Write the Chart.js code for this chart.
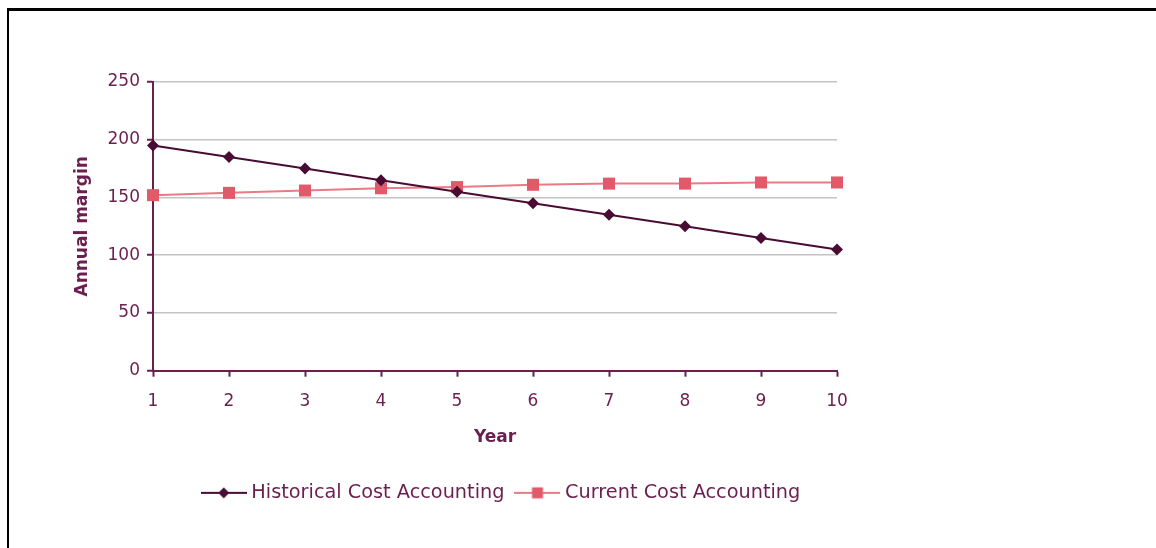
<!DOCTYPE html>
<html>
<head>
<meta charset="utf-8">
<title>Annual margin</title>
<script src="https://cdn.jsdelivr.net/npm/chart.js@4.4.1/dist/chart.umd.min.js"></script>
<style>
    body { margin: 0; background: #fff; }
    #frame {
        position: absolute; left: 7px; top: 8px; width: 1149px; height: 540px;
        border-top: 3px solid #000; border-left: 2px solid #000; box-sizing: border-box;
    }
    #wrap { position: absolute; left: 0; top: 0; width: 1156px; height: 548px; }
</style>
</head>
<body>
<div id="frame"></div>
<div id="wrap"><canvas id="marginChart"></canvas></div>
<script>
// Data
const years = ['1', '2', '3', '4', '5', '6', '7', '8', '9', '10'];
const historicalCost = [195, 185, 175, 165, 155, 145, 135, 125, 115, 105];
const currentCost = [152, 154, 156, 158, 159, 161, 162, 162, 163, 163];
const yTicks = [0, 50, 100, 150, 200, 250];

const textColor = '#6a1f4f';
const axisColor = '#6a1f4f';
const gridColor = '#c4c4c4';
const histColor = '#4a0b33';
const currColor = '#e2596a';
const currLine = '#ea7a86';

Chart.defaults.font.family = "'DejaVu Sans', sans-serif";

// Legend icons: short line with the marker in the middle
function makeIcon(lineColor, markerColor, shape) {
    const c = document.createElement('canvas');
    c.width = 46;
    c.height = 14;
    const g = c.getContext('2d');
    g.strokeStyle = lineColor;
    g.lineWidth = 2;
    g.beginPath();
    g.moveTo(0, 7);
    g.lineTo(46, 7);
    g.stroke();
    g.fillStyle = markerColor;
    g.beginPath();
    if (shape === 'diamond') {
        g.moveTo(23, 1.5);
        g.lineTo(28.5, 7);
        g.lineTo(23, 12.5);
        g.lineTo(17.5, 7);
        g.closePath();
    } else {
        g.rect(17.5, 1.5, 11, 11);
    }
    g.fill();
    return c;
}
const legendIcons = [
    makeIcon(histColor, histColor, 'diamond'),
    makeIcon(currLine, currColor, 'square')
];

// nudge the legend a little to the right, like the original
const shiftLegend = {
    id: 'shiftLegend',
    afterLayout(chart) {
        if (chart.legend) {
            chart.legend.left += 8;
            chart.legend.right += 8;
        }
    }
};

new Chart(document.getElementById('marginChart'), {
    type: 'line',
    data: {
        labels: years,
        datasets: [{
            label: 'Historical Cost Accounting',
            data: historicalCost,
            borderColor: histColor,
            borderWidth: 2,
            pointStyle: 'rectRot',
            pointRadius: 6,
            pointBackgroundColor: histColor,
            pointBorderColor: histColor,
            pointBorderWidth: 0,
            tension: 0,
            clip: false
        }, {
            label: 'Current Cost Accounting',
            data: currentCost,
            borderColor: currLine,
            borderWidth: 2,
            pointStyle: 'rect',
            pointRadius: 8.5,
            pointBackgroundColor: currColor,
            pointBorderColor: currColor,
            pointBorderWidth: 0,
            tension: 0,
            clip: false
        }]
    },
    options: {
        responsive: true,
        maintainAspectRatio: false,
        animation: false,
        layout: {
            padding: { left: 68, top: 82, right: 319, bottom: 35.5 }
        },
        plugins: {
            tooltip: { enabled: false },
            legend: {
                position: 'bottom',
                fullSize: false,
                labels: {
                    usePointStyle: true,
                    pointStyleWidth: 36,
                    padding: 15,
                    color: textColor,
                    font: { size: 19.3 },
                    generateLabels: function (chart) {
                        const items = Chart.defaults.plugins.legend.labels.generateLabels(chart);
                        items.forEach((it, i) => { it.pointStyle = legendIcons[i]; });
                        return items;
                    }
                }
            }
        },
        scales: {
            x: {
                type: 'category',
                offset: false,
                grid: {
                    drawOnChartArea: false,
                    drawTicks: true,
                    tickLength: 6,
                    tickColor: axisColor,
                    tickWidth: 2
                },
                border: { color: axisColor, width: 2 },
                ticks: {
                    color: textColor,
                    font: { size: 17 },
                    padding: 15,
                    maxRotation: 0,
                    autoSkip: false
                },
                title: {
                    display: true,
                    text: 'Year',
                    color: textColor,
                    font: { size: 17, weight: 'bold' },
                    padding: { top: 4, bottom: 20.3 }
                },
                afterFit: function (scale) { scale.height = 97.5; }
            },
            y: {
                min: 0,
                max: 250,
                grid: {
                    color: ctx => (ctx.tick && ctx.tick.value === 0) ? 'rgba(0,0,0,0)' : gridColor,
                    lineWidth: 1.5,
                    tickLength: 6,
                    tickColor: axisColor,
                    tickWidth: 2
                },
                border: { color: axisColor, width: 2 },
                ticks: {
                    color: textColor,
                    font: { size: 17 },
                    padding: 7
                },
                afterBuildTicks: function (scale) {
                    scale.ticks = yTicks.map(v => ({ value: v }));
                },
                title: {
                    display: true,
                    text: 'Annual margin',
                    color: textColor,
                    font: { size: 17, weight: 'bold' },
                    padding: { top: 4, bottom: 4 }
                },
                afterFit: function (scale) { scale.width = 153 - 68; }
            }
        }
    },
    plugins: [shiftLegend]
});
</script>
</body>
</html>
